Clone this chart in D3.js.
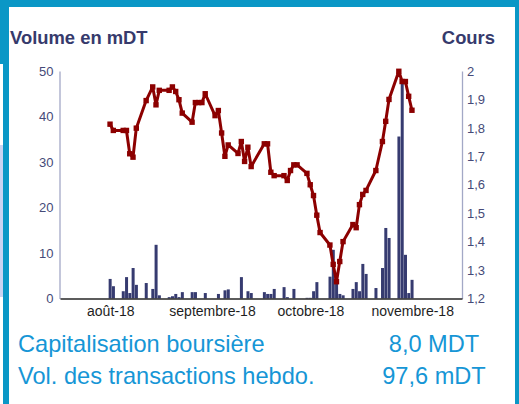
<!DOCTYPE html>
<html>
<head>
<meta charset="utf-8">
<script src="https://cdn.jsdelivr.net/npm/d3@7"></script>
<style>
  body { margin: 0; background: #fff; }
  svg { display: block; font-family: "Liberation Sans", Arial, sans-serif; }
</style>
</head>
<body>
<div id="chart"></div>
<script>
// séances de bourse (2018)
const days = [
  "2018-08-02","2018-08-03","2018-08-06","2018-08-07","2018-08-08","2018-08-09","2018-08-10",
  "2018-08-13","2018-08-14","2018-08-15","2018-08-16","2018-08-17",
  "2018-08-20","2018-08-21","2018-08-22","2018-08-23","2018-08-24",
  "2018-08-27","2018-08-28","2018-08-29","2018-08-30","2018-08-31",
  "2018-09-03","2018-09-04","2018-09-05","2018-09-06","2018-09-07",
  "2018-09-10","2018-09-11","2018-09-12","2018-09-13","2018-09-14",
  "2018-09-17","2018-09-18","2018-09-19","2018-09-20","2018-09-21",
  "2018-09-24","2018-09-25","2018-09-26","2018-09-27","2018-09-28",
  "2018-10-01","2018-10-02","2018-10-03","2018-10-04","2018-10-05",
  "2018-10-08","2018-10-09","2018-10-10","2018-10-11","2018-10-12",
  "2018-10-15","2018-10-16","2018-10-17","2018-10-18","2018-10-19",
  "2018-10-22","2018-10-23","2018-10-24","2018-10-25","2018-10-26",
  "2018-10-29","2018-10-30","2018-10-31","2018-11-01","2018-11-02"
];

// volume en mDT
const volumes = [
  4.3, 2.7, 1.6, 4.7, 1.2, 6.7, 3.0,
  3.4, 0, 2.1, 11.8, 0.7,
  0.3, 0.5, 1.0, 0.3, 1.4,
  1.4, 1.4, 0, 0, 1.2,
  0, 1.0, 0, 1.8, 2.0,
  0, 4.7, 0, 1.6, 1.2,
  0, 1.4, 1.0, 1.0, 2.1,
  2.5, 0.3, 0, 2.1, 0,
  0.15, 0.15, 1.6, 3.6, 0,
  4.8, 10.7, 4.0, 1.0, 0.7,
  2.1, 3.6, 1.6, 7.6, 5.4,
  2.3, 0, 6.7, 15.5, 13.3,
  35.6, 48.0, 9.6, 1.2, 4.1
];

// cours (null = pas de cotation)
const prices = [
  1.813, 1.791, 1.791, 1.791, 1.709, 1.697, 1.799,
  1.896, null, 1.944, 1.881, 1.932,
  1.932, 1.944, 1.928, 1.899, 1.852,
  1.820, 1.889, 1.889, 1.889, 1.920,
  1.843, 1.861, 1.782, 1.700, 1.740,
  1.710, 1.752, 1.682, 1.732, 1.664,
  null, 1.744, 1.744, 1.644, 1.632,
  1.632, 1.615, 1.650, 1.670, 1.670,
  1.640, 1.600, 1.562, 1.493, 1.432,
  1.388, 1.320, 1.259, 1.330, 1.400,
  1.460, 1.449, 1.530, 1.566, 1.580,
  1.650, null, 1.752, 1.823, 1.900,
  1.999, 1.963, 1.963, 1.911, 1.862
];

const volumeTicks = [0, 10, 20, 30, 40, 50];
const priceTicks = [1.2, 1.3, 1.4, 1.5, 1.6, 1.7, 1.8, 1.9, 2.0];
const monthTicks = ["2018-08-01", "2018-09-01", "2018-10-01", "2018-11-01"];
const monthLabels = ["août-18", "septembre-18", "octobre-18", "novembre-18"];

const W = 519, H = 404;
const plotL = 60, plotR = 462, plotT = 71, plotB = 298.5;

const parse = d3.timeParse("%Y-%m-%d");
const data = days.map((d, i) => ({date: parse(d), vol: volumes[i], price: prices[i]}));

const svg = d3.select("#chart").append("svg")
  .attr("width", W)
  .attr("height", H);

// cadre bleu
svg.append("rect").attr("width", W).attr("height", H).attr("fill", "#0a97c6");
svg.append("rect").attr("x", 0).attr("y", 64).attr("width", 3).attr("height", H - 64).attr("fill", "#fff");
svg.append("rect").attr("x", 0).attr("y", 145).attr("width", 3).attr("height", 152).attr("fill", "#c9d3f2");
svg.append("rect").attr("x", 9).attr("y", 7).attr("width", 506).attr("height", H - 7).attr("fill", "#fff");

const x = d3.scaleTime()
  .domain([new Date(2018, 6, 17, 18), new Date(2018, 10, 17, 6)])
  .range([plotL, plotR]);
const yVol = d3.scaleLinear().domain([0, 50]).range([plotB, plotT]);
const yPrice = d3.scaleLinear().domain([1.2, 2]).range([plotB, plotT]);

const fr = d3.formatLocale({decimal: ",", thousands: " ", grouping: [3], currency: ["", " DT"]});
const fmtPrice = fr.format(".2~g");

// titres
svg.append("text")
  .attr("x", 10).attr("y", 44)
  .style("font-size", "18.4px").style("font-weight", "bold")
  .attr("fill", "#363a6c")
  .text("Volume en mDT");
svg.append("text")
  .attr("x", 495).attr("y", 44)
  .attr("text-anchor", "end")
  .style("font-size", "18.4px").style("font-weight", "bold")
  .attr("fill", "#363a6c")
  .text("Cours");

// barres de volume
svg.append("g")
  .selectAll("rect")
  .data(data.filter(d => d.vol > 0))
  .join("rect")
  .attr("x", d => x(d.date) - 1.4)
  .attr("width", 3)
  .attr("y", d => yVol(d.vol))
  .attr("height", d => plotB - yVol(d.vol))
  .attr("fill", "#363b70");

// axes
const axLeft = svg.append("g")
  .attr("transform", `translate(${plotL - 0.5},0)`)
  .call(d3.axisLeft(yVol).tickValues(volumeTicks).tickSize(0).tickPadding(6));
const axRight = svg.append("g")
  .attr("transform", `translate(${plotR},0)`)
  .call(d3.axisRight(yPrice).tickValues(priceTicks).tickSize(0).tickPadding(5).tickFormat(fmtPrice));
[axLeft, axRight].forEach(g => {
  g.select(".domain").attr("stroke", "#a3a8c6").attr("stroke-width", 1.3);
  g.selectAll("text").attr("fill", "#454a78").style("font-size", "13px").attr("font-family", null);
});

const axBottom = svg.append("g")
  .attr("transform", `translate(0,${plotB})`)
  .call(d3.axisBottom(x)
    .tickValues(monthTicks.map(parse))
    .tickSize(0)
    .tickPadding(7.5)
    .tickFormat((d, i) => monthLabels[i]));
axBottom.select(".domain").attr("stroke", "#262626").attr("stroke-width", 1.6);
axBottom.selectAll("text")
  .attr("dx", 3.5)
  .attr("fill", "#1e1e1e")
  .attr("font-family", null)
  .style("font-size", "14px");

// courbe du cours
const pts = data.filter(d => d.price != null);
const line = d3.line()
  .x(d => x(d.date))
  .y(d => yPrice(d.price));

svg.append("path")
  .datum(pts)
  .attr("d", line)
  .attr("fill", "none")
  .attr("stroke", "#8c0000")
  .attr("stroke-width", 3)
  .attr("stroke-linejoin", "round");

svg.append("g")
  .selectAll("rect")
  .data(pts)
  .join("rect")
  .attr("x", d => x(d.date) - 2.7)
  .attr("y", d => yPrice(d.price) - 2.7)
  .attr("width", 5.4)
  .attr("height", 5.4)
  .attr("fill", "#8c0000");

// indicateurs
const infoRows = [
  ["Capitalisation boursière", "8,0 MDT"],
  ["Vol. des transactions hebdo.", "97,6 mDT"]
];
const info = svg.append("g")
  .selectAll("g")
  .data(infoRows)
  .join("g")
  .attr("transform", (d, i) => `translate(0,${352 + i * 31.5})`)
  .style("font-size", "23.6px")
  .attr("fill", "#1696d6");
info.append("text").attr("x", 18).text(d => d[0]);
info.append("text").attr("x", 434).attr("text-anchor", "middle").text(d => d[1]);
</script>
</body>
</html>
